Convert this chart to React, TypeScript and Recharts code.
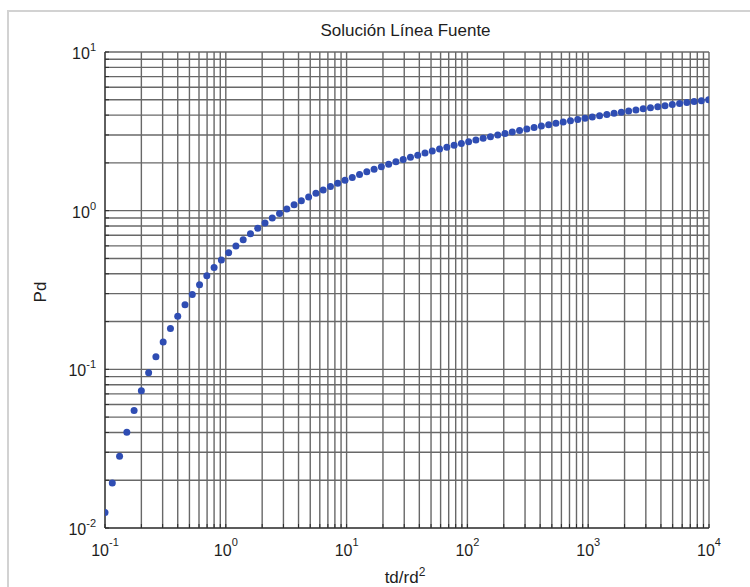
import { CartesianGrid, Scatter, ScatterChart, XAxis, YAxis } from "recharts";

const title = "Solución Línea Fuente";
const xLabel = "td/rd";
const yLabel = "Pd";

const xMajor = [0.1, 1, 10, 100, 1000, 10000];
const yMajor = [0.01, 0.1, 1, 10];
const minorSteps = [2, 3, 4, 5, 6, 7, 8, 9];

// dimensionless time td/rd^2
const td = [
  0.1, 0.1149, 0.132, 0.1516, 0.1741, 0.2, 0.2297, 0.2639, 0.3031, 0.3482,
  0.4, 0.4595, 0.5278, 0.6063, 0.6964, 0.8, 0.919, 1.056, 1.213, 1.393,
  1.6, 1.838, 2.111, 2.425, 2.786, 3.2, 3.676, 4.222, 4.85, 5.572,
  6.4, 7.352, 8.445, 9.701, 11.14, 12.8, 14.7, 16.89, 19.4, 22.29,
  25.6, 29.41, 33.78, 38.8, 44.57, 51.2, 58.81, 67.56, 77.61, 89.15,
  102.4, 117.6, 135.1, 155.2, 178.3, 204.8, 235.3, 270.2, 310.4, 356.6,
  409.6, 470.5, 540.5, 620.9, 713.2, 819.2, 941, 1081, 1242, 1426,
  1638, 1882, 2162, 2483, 2853, 3277, 3764, 4324, 4967, 5706,
  6554, 7528, 8648, 9934
];

// dimensionless pressure Pd
const pd = [
  0.0125, 0.0192, 0.0283, 0.0402, 0.0551, 0.0733, 0.095, 0.12, 0.1487, 0.1808,
  0.2164, 0.2553, 0.2965, 0.3411, 0.3882, 0.4378, 0.4896, 0.5434, 0.5989, 0.6561,
  0.7147, 0.7747, 0.8357, 0.8977, 0.9609, 1.024, 1.089, 1.154, 1.22, 1.286,
  1.352, 1.419, 1.486, 1.554, 1.621, 1.689, 1.757, 1.825, 1.894, 1.962,
  2.031, 2.099, 2.168, 2.237, 2.306, 2.375, 2.444, 2.513, 2.582, 2.651,
  2.72, 2.789, 2.859, 2.928, 2.997, 3.066, 3.135, 3.205, 3.274, 3.343,
  3.412, 3.482, 3.551, 3.62, 3.69, 3.759, 3.828, 3.897, 3.967, 4.036,
  4.105, 4.175, 4.244, 4.313, 4.383, 4.452, 4.521, 4.591, 4.66, 4.729,
  4.798, 4.868, 4.937, 5.006
];

const points = td.map((x, i) => ({ td: x, pd: pd[i] }));

function withMinors(majors: number[]) {
  const out: number[] = [];
  majors.forEach((m, i) => {
    out.push(m);
    if (i < majors.length - 1) minorSteps.forEach((s) => out.push(+(m * s).toPrecision(6)));
  });
  return out;
}

const xTicks = withMinors(xMajor);
const yTicks = withMinors(yMajor);

const W = 750;
const H = 587;
const TOP = 52;
const BOTTOM = 528;
const LEFT = 105;
const RIGHT = 709;
const FONT = "'Liberation Sans', Arial, Helvetica, sans-serif";
const GRID = "#686868";
const BOX = "#2a2a2a";
const DOT = "#2f4db3";
const TEXT = "#1e1e1e";

const expOf = (v: number) => Math.round(Math.log10(v));

const XTick = (props: any) => {
  const v = props.payload.value;
  if (!xMajor.includes(v)) return <g />;
  return (
    <text x={props.x} y={BOTTOM + 28} textAnchor="middle" fontSize={16} fontFamily={FONT} fill={TEXT}>
      10
      <tspan dy={-10} fontSize={11}>{expOf(v)}</tspan>
    </text>
  );
};

const YTick = (props: any) => {
  const v = props.payload.value;
  if (!yMajor.includes(v)) return <g />;
  return (
    <text x={LEFT - 9} y={props.y + 7} textAnchor="end" fontSize={16} fontFamily={FONT} fill={TEXT}>
      10
      <tspan dy={-8} fontSize={11}>{expOf(v)}</tspan>
    </text>
  );
};

export default function App() {
  return (
    <div style={{ position: "absolute", left: 0, top: 0, width: W, height: H, overflow: "hidden", background: "#fff", fontFamily: FONT }}>
      <div style={{ position: "absolute", left: 7, top: 10, width: W, height: H, borderTop: "2px solid #d2d2d2", borderLeft: "2px solid #d2d2d2" }} />
      <div style={{ position: "absolute", left: 0, width: 811, top: 21, textAlign: "center", fontSize: 17, color: TEXT }}>{title}</div>
      <div style={{ position: "absolute", left: 41, top: 292, transform: "translate(-50%, -50%) rotate(-90deg)", fontSize: 17, color: TEXT }}>{yLabel}</div>
      <div style={{ position: "absolute", left: 0, width: 810, top: 565, textAlign: "center", fontSize: 17, color: TEXT }}>
        {xLabel}
        <sup style={{ fontSize: 12 }}>2</sup>
      </div>
      <div style={{ position: "absolute", left: 0, top: 0 }}>
        <ScatterChart width={W} height={H} margin={{ top: TOP, right: W - RIGHT, bottom: 0, left: 0 }}>
          <CartesianGrid stroke={GRID} strokeWidth={1.4} />
          <XAxis
            dataKey="td"
            type="number"
            scale="log"
            domain={[0.1, 10000]}
            allowDataOverflow
            ticks={xTicks}
            interval={0}
            height={H - BOTTOM}
            tick={<XTick />}
            tickSize={-4}
            tickLine={{ stroke: BOX }}
            axisLine={{ stroke: BOX }}
          />
          <XAxis
            xAxisId="top"
            orientation="top"
            type="number"
            scale="log"
            domain={[0.1, 10000]}
            allowDataOverflow
            ticks={xTicks}
            interval={0}
            height={0}
            tick={false}
            tickSize={-4}
            tickLine={{ stroke: BOX }}
            axisLine={{ stroke: BOX }}
          />
          <YAxis
            dataKey="pd"
            type="number"
            scale="log"
            domain={[0.01, 10]}
            allowDataOverflow
            ticks={yTicks}
            interval={0}
            width={LEFT}
            tick={<YTick />}
            tickSize={-4}
            tickLine={{ stroke: BOX }}
            axisLine={{ stroke: BOX }}
          />
          <YAxis
            yAxisId="right"
            orientation="right"
            type="number"
            scale="log"
            domain={[0.01, 10]}
            allowDataOverflow
            ticks={yTicks}
            interval={0}
            width={0}
            tick={false}
            tickSize={-4}
            tickLine={{ stroke: BOX }}
            axisLine={{ stroke: BOX }}
          />
          <Scatter
            data={points}
            isAnimationActive={false}
            shape={(p: any) => <circle cx={p.cx} cy={p.cy} r={3.5} fill={DOT} />}
          />
        </ScatterChart>
      </div>
    </div>
  );
}
